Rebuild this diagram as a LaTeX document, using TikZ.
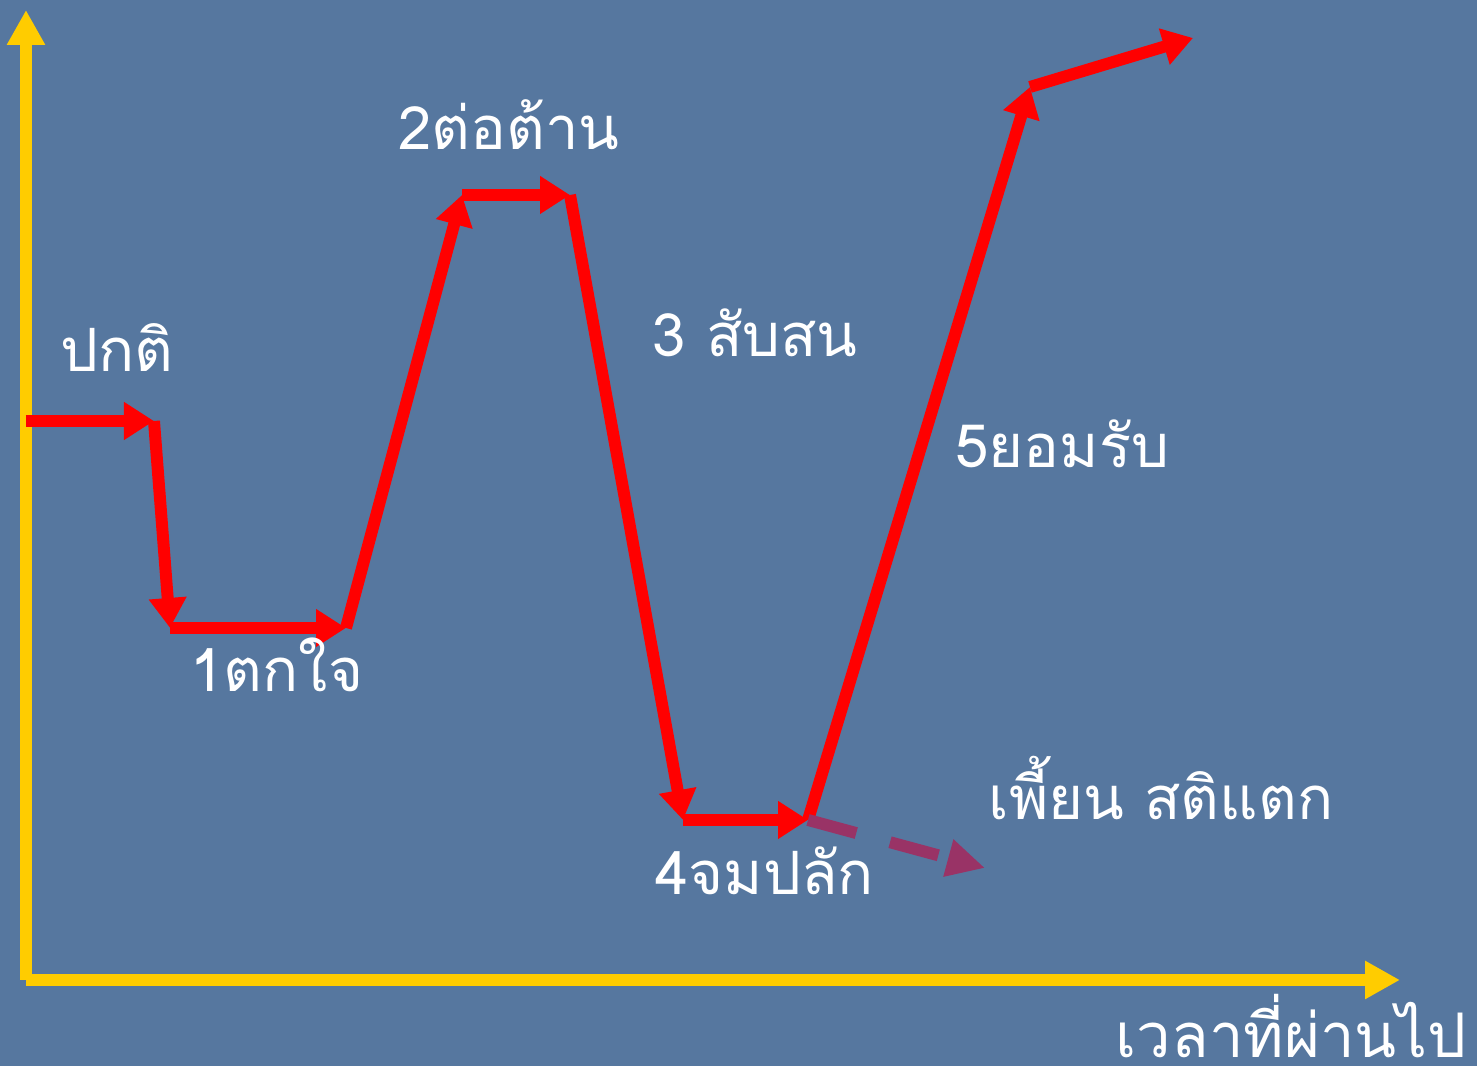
\documentclass[tikz,border=0pt]{standalone}
\usepackage{fontspec}
\usepackage{tikz}
\usetikzlibrary{arrows.meta}
\newfontfamily\thaifont[Script=Thai]{Loma}
\definecolor{bg}{HTML}{56779F}
\definecolor{axis}{HTML}{FFCC00}
\definecolor{curve}{HTML}{FF0000}
\definecolor{branch}{HTML}{993366}
\definecolor{text}{HTML}{FFFFFF}
\tikzset{
  axisline/.style={color=axis, line width=3.4pt, -{Triangle[length=0.35cm,width=0.36cm]}},
  stage/.style={color=curve, line width=3.4pt, -{Triangle[length=0.3cm,width=0.36cm]}},
  lbl/.style={text=text, font=\thaifont\fontsize{17}{19}\selectfont, inner sep=0pt, anchor=base west},
}
\begin{document}
\begin{tikzpicture}
\useasboundingbox[fill=bg] (0,0) rectangle (14.77,10.66);
% axes
\coordinate (o) at (0.26,0.86);
\coordinate (ytop) at (0.26,10.56);
\coordinate (xend) at (14.00,0.86);
\draw[axisline] (o) -- (ytop);
\draw[axisline] (o) -- (xend);
% stages
\coordinate (p0) at (0.26,6.45);
\coordinate (p1) at (1.54,6.45);
\coordinate (p2) at (1.70,4.38);
\coordinate (p3) at (3.46,4.38);
\coordinate (p4) at (4.62,8.71);
\coordinate (p5) at (5.70,8.71);
\coordinate (p6) at (6.83,2.46);
\coordinate (p7) at (8.08,2.46);
\coordinate (p8) at (10.30,9.79);
\coordinate (p9) at (11.93,10.28);
\coordinate (q) at (9.85,1.98);
\foreach \a/\b in {p0/p1,p1/p2,p2/p3,p3/p4,p4/p5,p5/p6,p6/p7,p7/p8,p8/p9}{
  \draw[stage] (\a) -- (\b);
}
\draw[color=branch, line width=3.4pt, dash pattern=on 0.5cm off 0.35cm,
  -{Triangle[length=0.38cm,width=0.36cm]}] (p7) -- (q);
% labels
\node[lbl] (normal) at (0.60,6.94) {ปกติ};
\node[lbl] (shock) at (1.90,3.74) {1ตกใจ};
\node[lbl] (resist) at (3.98,9.16) {2ต่อต้าน};
\node[lbl] (confuse) at (6.52,7.09) {3 สับสน};
\node[lbl] (accept) at (9.55,5.98) {5ยอมรับ};
\node[lbl] (break) at (9.88,2.46) {เพี้ยน สติแตก};
\node[lbl] (stuck) at (6.55,1.71) {4จมปลัก};
\node[lbl, font=\thaifont\fontsize{17.5}{19}\selectfont] (time) at (11.15,0.08) {เวลาที่ผ่านไป};
\end{tikzpicture}
\end{document}
